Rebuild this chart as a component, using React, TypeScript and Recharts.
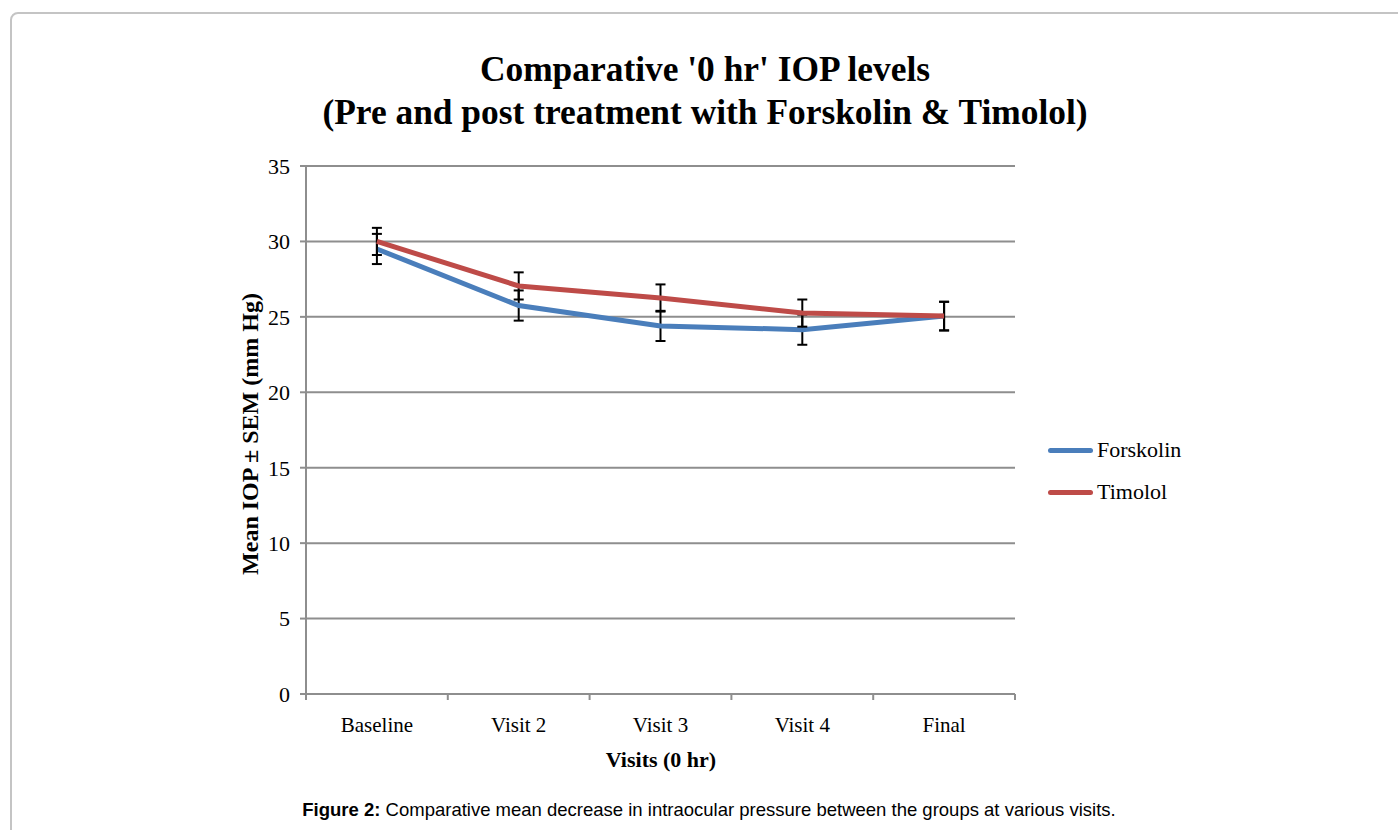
import { LineChart, Line, XAxis, YAxis, CartesianGrid, ErrorBar } from 'recharts'

const visits = ['Baseline', 'Visit 2', 'Visit 3', 'Visit 4', 'Final']
const forskolin = [29.5, 25.75, 24.4, 24.15, 25.05]
const forskolinSem = [1.0, 1.0, 1.0, 1.0, 0.95]
const timolol = [30.0, 27.05, 26.25, 25.25, 25.05]
const timololSem = [0.9, 0.9, 0.9, 0.9, 0.95]
const yTicks = [0, 5, 10, 15, 20, 25, 30, 35]

const data = visits.map((v, i) => ({
  visit: v,
  forskolin: forskolin[i],
  forskolinSem: forskolinSem[i],
  timolol: timolol[i],
  timololSem: timololSem[i],
}))

const BLUE = '#4A7EBB'
const RED = '#BE4B48'
const GRID = '#8E8E8E'
const SERIF = '"Liberation Serif", "Times New Roman", serif'
const SANS = '"Liberation Sans", Arial, sans-serif'

const PLOT_W = 709
const BAND = PLOT_W / visits.length

function VisitTick({ x, y, payload, index }: any) {
  return (
    <g>
      <line x1={x - BAND / 2} x2={x - BAND / 2} y1={y} y2={y + 6} stroke={GRID} strokeWidth={2} />
      {index === visits.length - 1 && (
        <line x1={x + BAND / 2} x2={x + BAND / 2} y1={y} y2={y + 6} stroke={GRID} strokeWidth={2} />
      )}
      <text x={x} y={y + 38} textAnchor="middle" fontFamily={SERIF} fontSize={21} fill="#000">
        {payload.value}
      </text>
    </g>
  )
}

function LegendRow({ color, label, top }: { color: string; label: string; top: number }) {
  return (
    <div style={{ position: 'absolute', left: 1048, top, display: 'flex', alignItems: 'center' }}>
      <div style={{ width: 45, height: 5, borderRadius: 3, background: color }} />
      <span style={{ fontFamily: SERIF, fontSize: 22, color: '#000', marginLeft: 4 }}>{label}</span>
    </div>
  )
}

export default function App() {
  return (
    <div style={{ position: 'absolute', left: 0, top: 0, width: 1398, height: 830, background: '#fff', overflow: 'hidden' }}>
      <div
        style={{
          position: 'absolute',
          left: 10,
          top: 12,
          width: 1420,
          height: 900,
          border: '2px solid #c4c4c4',
          borderRadius: 8,
        }}
      />
      <div
        style={{
          position: 'absolute',
          left: 0,
          width: 1410,
          top: 48,
          textAlign: 'center',
          fontFamily: SERIF,
          fontWeight: 'bold',
          fontSize: 35.4,
          lineHeight: '43px',
          color: '#000',
        }}
      >
        Comparative '0 hr' IOP levels
        <br />
        (Pre and post treatment with Forskolin &amp; Timolol)
      </div>

      <div style={{ position: 'absolute', left: 0, top: 0 }}>
        <LineChart
          width={1398}
          height={830}
          data={data}
          margin={{ top: 166, right: 383, bottom: 106, left: 246 }}
        >
          <CartesianGrid horizontal vertical={false} stroke={GRID} strokeWidth={2} />
          <XAxis
            dataKey="visit"
            scale="band"
            height={30}
            axisLine={{ stroke: GRID, strokeWidth: 2 }}
            tickLine={false}
            tickSize={0}
            tickMargin={0}
            tick={<VisitTick />}
            interval={0}
          />
          <YAxis
            width={60}
            domain={[0, 35]}
            ticks={yTicks}
            interval={0}
            axisLine={{ stroke: GRID, strokeWidth: 2 }}
            tickLine={{ stroke: GRID, strokeWidth: 2 }}
            tickSize={6}
            tickMargin={10}
            tick={{ fontFamily: SERIF, fontSize: 22, fill: '#000' }}
          />
          <Line
            dataKey="forskolin"
            stroke={BLUE}
            strokeWidth={5}
            dot={false}
            activeDot={false}
            isAnimationActive={false}
          >
            <ErrorBar dataKey="forskolinSem" direction="y" width={5} stroke="#000" strokeWidth={2} isAnimationActive={false} />
          </Line>
          <Line
            dataKey="timolol"
            stroke={RED}
            strokeWidth={5}
            dot={false}
            activeDot={false}
            isAnimationActive={false}
          >
            <ErrorBar dataKey="timololSem" direction="y" width={5} stroke="#000" strokeWidth={2} isAnimationActive={false} />
          </Line>
        </LineChart>
      </div>

      <div
        style={{
          position: 'absolute',
          left: 250,
          top: 434,
          transform: 'translate(-50%, -50%) rotate(-90deg)',
          whiteSpace: 'nowrap',
          fontFamily: SERIF,
          fontWeight: 'bold',
          fontSize: 24,
          color: '#000',
        }}
      >
        Mean IOP ± SEM (mm Hg)
      </div>
      <div
        style={{
          position: 'absolute',
          left: 661,
          top: 760,
          transform: 'translate(-50%, -50%)',
          whiteSpace: 'nowrap',
          fontFamily: SERIF,
          fontWeight: 'bold',
          fontSize: 22,
          color: '#000',
        }}
      >
        Visits (0 hr)
      </div>

      <LegendRow color={BLUE} label="Forskolin" top={437} />
      <LegendRow color={RED} label="Timolol" top={479} />

      <div
        style={{
          position: 'absolute',
          left: 709,
          top: 810,
          transform: 'translate(-50%, -50%)',
          whiteSpace: 'nowrap',
          fontFamily: SANS,
          fontSize: 18.5,
          color: '#000',
        }}
      >
        <b>Figure 2:</b> Comparative mean decrease in intraocular pressure between the groups at various visits.
      </div>
    </div>
  )
}
